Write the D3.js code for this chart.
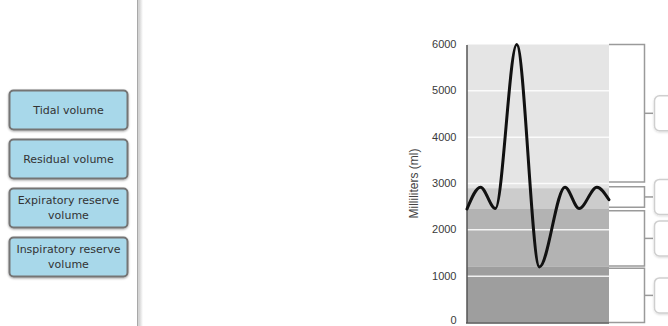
<!DOCTYPE html>
<html><head><meta charset="utf-8">
<script src="https://cdn.jsdelivr.net/npm/d3@7"></script>
<style>
html,body{margin:0;padding:0;background:#fff;}
svg{display:block;}
</style></head>
<body>
<svg id="c" width="668" height="326"></svg>
<script>
// ---- data ----
const buttonLabels = [["Tidal volume"],["Residual volume"],["Expiratory reserve","volume"],["Inspiratory reserve","volume"]];
const yTicks = [0,1000,2000,3000,4000,5000,6000];
const yTitle = "Milliliters (ml)";
const bandBounds = [0,1200,2450,2900,6000];
const bandColors = ["#9e9e9e","#b3b3b3","#cccccc","#e5e5e5"];
const bracketBounds = [[0,1170],[1220,2410],[2490,2930],[3030,6000]];
const times =   [0,   1.9,  4.0,  7.0,  10.2, 13.8, 15.8, 18.3, 20];
const volumes = [2450,2920, 2460, 6000, 1200, 2920, 2460, 2920, 2650];

const svg = d3.select("#c");
const defs = svg.append("defs");

// ---- left panel ----
const bx = 9, bw = 118, bh = 39;
const sh = defs.append("filter").attr("id","sh").attr("x","-10%").attr("y","-10%").attr("width","130%").attr("height","140%");
sh.append("feDropShadow").attr("dx",0).attr("dy",1).attr("stdDeviation",0.8).attr("flood-color","#000").attr("flood-opacity",0.35);

const btn = svg.selectAll("g.btn").data(buttonLabels).join("g").attr("class","btn")
  .attr("transform",(d,i)=>`translate(${bx},${Math.round(90 + i*48.9)})`);
btn.append("rect").attr("x",0.5).attr("y",0.5).attr("width",bw).attr("height",bh)
  .attr("rx",4).attr("fill","#a8d8ea").attr("stroke","#757575").attr("stroke-width",2).attr("filter","url(#sh)");
btn.each(function(d){
  const g = d3.select(this);
  const n = d.length, lh = 15;
  d.forEach((t,j)=>{
    g.append("text").attr("x",bw/2+0.5).attr("y",bh/2+0.5 + (j-(n-1)/2)*lh)
      .attr("dy","0.35em").attr("text-anchor","middle")
      .attr("font-family","DejaVu Sans, Verdana, sans-serif").attr("font-size",11)
      .attr("fill","#333").text(t);
  });
});

// divider
const grad = defs.append("linearGradient").attr("id","dv").attr("x1","0").attr("x2","1");
grad.append("stop").attr("offset","0").attr("stop-color","#d0d0d0");
grad.append("stop").attr("offset","1").attr("stop-color","#ffffff");
svg.append("rect").attr("x",139).attr("y",0).attr("width",4).attr("height",326).attr("fill","url(#dv)");
svg.append("line").attr("x1",137.75).attr("x2",137.75).attr("y1",0).attr("y2",326).attr("stroke","#a8a8a8").attr("stroke-width",1.5);

// ---- chart ----
const x = d3.scaleLinear().domain([0,20]).range([467,609]);
const y = d3.scaleLinear().domain([0,6000]).range([322.5,44.5]);

// bands
svg.selectAll("rect.band").data(bandColors).join("rect").attr("class","band")
  .attr("x",x(0)).attr("width",x(20)-x(0))
  .attr("y",(d,i)=>y(bandBounds[i+1])).attr("height",(d,i)=>y(bandBounds[i])-y(bandBounds[i+1]))
  .attr("fill",d=>d);

// grid lines
svg.selectAll("line.grid").data(yTicks.filter(v=>v>0&&v<6000)).join("line").attr("class","grid")
  .attr("x1",x(0)).attr("x2",x(20)).attr("y1",d=>y(d)).attr("y2",d=>y(d))
  .attr("stroke","#fff").attr("stroke-opacity",0.85).attr("stroke-width",1.5);

// axis
const ax = svg.append("g").attr("transform",`translate(${x(0)-0.5},0)`)
  .call(d3.axisLeft(y).tickValues(yTicks).tickFormat(d3.format("d")).tickSizeInner(0).tickSizeOuter(0).tickPadding(10));
ax.select(".domain").attr("stroke","#555").attr("stroke-width",1.5);
ax.selectAll("text").attr("font-family","Liberation Sans, Arial, sans-serif").attr("font-size",11).attr("fill","#3a3a3a")
  .attr("dy",d=>d===0?"0.1em":"0.28em");
svg.append("line").attr("x1",x(0)-1).attr("x2",x(20)).attr("y1",y(0)+0.5).attr("y2",y(0)+0.5).attr("stroke","#555").attr("stroke-width",1.5);

// y title
svg.append("text").attr("transform",`translate(417.5,${(y(0)+y(6000))/2 + 0}) rotate(-90)`)
  .attr("text-anchor","middle").attr("font-family","Liberation Sans, Arial, sans-serif")
  .attr("font-size",12).attr("fill","#444").text(yTitle);

// curve
const line = d3.line().x((d,i)=>x(times[i])).y(d=>y(d)).curve(d3.curveMonotoneX);
svg.append("path").datum(volumes).attr("d",line).attr("fill","none")
  .attr("stroke","#111").attr("stroke-width",3).attr("stroke-linecap","round");

// brackets
const bxR = 644.5, bxL = 609;
const br = svg.selectAll("g.br").data(bracketBounds).join("g").attr("class","br");
br.append("path").attr("d",d=>`M${bxL},${y(d[1])}H${bxR}V${y(d[0])}H${bxL}`)
  .attr("fill","none").attr("stroke","#9a9a9a").attr("stroke-width",1.5);
br.append("line").attr("x1",bxR).attr("x2",653)
  .attr("y1",d=>(y(d[0])+y(d[1]))/2).attr("y2",d=>(y(d[0])+y(d[1]))/2)
  .attr("stroke","#9a9a9a").attr("stroke-width",1.5);
const sh2 = defs.append("filter").attr("id","sh2").attr("x","-20%").attr("y","-20%").attr("width","140%").attr("height","140%");
sh2.append("feDropShadow").attr("dx",0).attr("dy",1).attr("stdDeviation",1).attr("flood-color","#000").attr("flood-opacity",0.15);
br.append("rect").attr("x",654.5).attr("width",40).attr("height",35)
  .attr("y",d=>(y(d[0])+y(d[1]))/2-17.5).attr("rx",5)
  .attr("fill","#fff").attr("stroke","#cfcfcf").attr("stroke-width",1.5).attr("filter","url(#sh2)");
</script>
</body></html>
